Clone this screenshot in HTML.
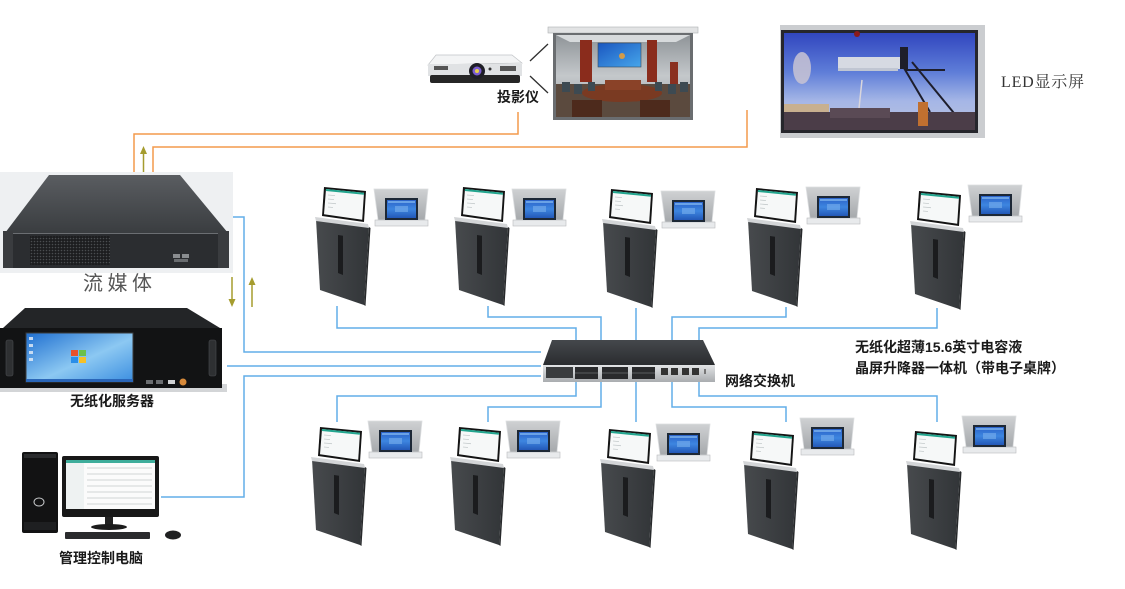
<!DOCTYPE html>
<html><head><meta charset="utf-8"><style>
html,body{margin:0;padding:0;background:#fff;}
svg{display:block;}
</style></head><body>
<svg width="1125" height="589" viewBox="0 0 1125 589" xmlns="http://www.w3.org/2000/svg">
<defs>
  <linearGradient id="slabG" x1="0" y1="0" x2="1" y2="0">
    <stop offset="0" stop-color="#474a4d"/><stop offset="1" stop-color="#323538"/>
  </linearGradient>
  <linearGradient id="plateG" x1="0" y1="0" x2="0" y2="1">
    <stop offset="0" stop-color="#cfd1d3"/><stop offset="1" stop-color="#a6a9ac"/>
  </linearGradient>
  <linearGradient id="blueG" x1="0" y1="0" x2="0" y2="1">
    <stop offset="0" stop-color="#2b62c9"/><stop offset="0.5" stop-color="#3d86e0"/><stop offset="1" stop-color="#2358b8"/>
  </linearGradient>
  <linearGradient id="srvTop" x1="0" y1="0" x2="0" y2="1">
    <stop offset="0" stop-color="#5a5d61"/><stop offset="1" stop-color="#3a3d40"/>
  </linearGradient>
  <linearGradient id="winG" x1="0" y1="0" x2="1" y2="1">
    <stop offset="0" stop-color="#1f6fd0"/><stop offset="0.55" stop-color="#8cc8f2"/><stop offset="1" stop-color="#3b8ee0"/>
  </linearGradient>
  <linearGradient id="swTop" x1="0" y1="0" x2="0" y2="1">
    <stop offset="0" stop-color="#45484c"/><stop offset="1" stop-color="#2a2c2f"/>
  </linearGradient>
  <linearGradient id="swFront" x1="0" y1="0" x2="0" y2="1">
    <stop offset="0" stop-color="#e2e4e6"/><stop offset="1" stop-color="#a9acaf"/>
  </linearGradient>
  <linearGradient id="skyG" x1="0" y1="0" x2="0" y2="1">
    <stop offset="0" stop-color="#3146bf"/><stop offset="0.4" stop-color="#5e7dd8"/><stop offset="0.7" stop-color="#a5b6e6"/><stop offset="1" stop-color="#b9c2e0"/>
  </linearGradient>
  <linearGradient id="wallG" x1="0" y1="0" x2="0" y2="1">
    <stop offset="0" stop-color="#8f9498"/><stop offset="0.5" stop-color="#c4c8cb"/><stop offset="1" stop-color="#9a9ea2"/>
  </linearGradient>
  <linearGradient id="projScr" x1="0" y1="0" x2="1" y2="1">
    <stop offset="0" stop-color="#1a56c0"/><stop offset="1" stop-color="#46a6ea"/>
  </linearGradient>
  <pattern id="grill" width="3" height="3" patternUnits="userSpaceOnUse">
    <rect width="3" height="3" fill="#1c1d1f"/><circle cx="1.5" cy="1.5" r="0.8" fill="#4a4d50"/>
  </pattern>

  <g id="lift">
    <polygon points="1,1 54,9 49,87 5,72" fill="url(#slabG)"/>
    <polygon points="54,9 55.5,10 50.5,88 49,87" fill="#27292b"/>
    <polygon points="0,-1 53,6 54,10 1,3" fill="#d3d5d7"/>
    <polygon points="23,17 28,17.8 28,57 23,55" fill="#1b1c1e"/>
    <polygon points="9,-31 51,-27 49,4 7,-2" fill="#141414"/>
    <polygon points="11,-29 49,-25.3 47.2,1.8 9,-3.8" fill="#f6f8f8"/>
    <polygon points="11,-29 49,-25.3 48.9,-23.3 10.9,-27" fill="#22a58e"/>
    <line x1="13" y1="-23" x2="20" y2="-22.4" stroke="#c5cbcc" stroke-width="0.8"/>
    <line x1="13" y1="-19" x2="19" y2="-18.4" stroke="#c5cbcc" stroke-width="0.8"/>
    <line x1="13" y1="-15" x2="21" y2="-14.3" stroke="#c5cbcc" stroke-width="0.8"/>
    <line x1="13" y1="-11" x2="18" y2="-10.5" stroke="#c5cbcc" stroke-width="0.8"/>
  </g>
  <g id="plate">
    <polygon points="0,0 54,0 51,31 4,31" fill="url(#plateG)" stroke="#dcdee0" stroke-width="0.8"/>
    <rect x="1" y="31" width="53" height="6" fill="#e8eaec" stroke="#b9bbbd" stroke-width="0.6"/>
    <rect x="11" y="9" width="33" height="22" fill="#1d2836"/>
    <rect x="13" y="11" width="29" height="18" fill="url(#blueG)"/>
    <rect x="14" y="12" width="27" height="2" fill="#6aa2e6"/>
    <rect x="21" y="17" width="13" height="6" fill="#7fb4ee" opacity="0.55"/>
  </g>
</defs>

<!-- ============ orange connectors ============ -->
<g fill="none" stroke="#f39a4c" stroke-width="1.5">
  <path d="M134,172 V134 H518 V112"/>
  <path d="M153,172 V147 H747 V110"/>
</g>
<!-- olive arrows -->
<g stroke="#a59c2e" stroke-width="1.5" fill="#a59c2e">
  <line x1="143.5" y1="172" x2="143.5" y2="153"/>
  <polygon points="143.5,146 140,154 147,154" stroke="none"/>
  <line x1="232" y1="277" x2="232" y2="300"/>
  <polygon points="232,307 228.5,299 235.5,299" stroke="none"/>
  <line x1="252" y1="307" x2="252" y2="284"/>
  <polygon points="252,277 248.5,285 255.5,285" stroke="none"/>
</g>

<!-- ============ blue connectors ============ -->
<g fill="none" stroke="#62aee8" stroke-width="1.5">
  <path d="M233,217 H244 V352 H541"/>
  <path d="M227,366 H541"/>
  <path d="M161,497 H244 V376 H541"/>
  <!-- top row -->
  <path d="M337,306 V328 H576 V341"/>
  <path d="M488,306 V317 H601 V341"/>
  <path d="M636,308 V341"/>
  <path d="M786,307 V317 H672 V341"/>
  <path d="M937,308 V328 H699 V341"/>
  <!-- bottom row -->
  <path d="M337,422 V396 H576 V382"/>
  <path d="M488,422 V407 H601 V382"/>
  <path d="M636,422 V382"/>
  <path d="M786,422 V407 H672 V382"/>
  <path d="M937,422 V396 H699 V382"/>
</g>

<!-- ============ projector ============ -->
<g>
  <polygon points="436,55 512,55 522,63 428,65" fill="#f3f4f5" stroke="#c0c3c6" stroke-width="0.7"/>
  <rect x="428" y="64" width="94" height="12" fill="#e0e2e4"/>
  <rect x="430" y="75" width="90" height="8" rx="2" fill="#262626"/>
  <rect x="434" y="66" width="14" height="4" fill="#555"/>
  <rect x="500" y="66" width="16" height="5" fill="#555"/>
  <circle cx="477" cy="71" r="8" fill="#1e1e26"/>
  <circle cx="477" cy="71" r="4.5" fill="#7b5ed0"/>
  <circle cx="477" cy="71" r="2" fill="#e8d04a"/>
  <circle cx="490" cy="69" r="1.5" fill="#333"/>
</g>
<g stroke="#2e2e2e" stroke-width="1.3">
  <line x1="530" y1="61" x2="548" y2="44"/>
  <line x1="530" y1="76" x2="548" y2="93"/>
</g>

<!-- ============ projection screen ============ -->
<g>
  <rect x="548" y="27" width="150" height="6" fill="#e2e3e4" stroke="#aeb0b2" stroke-width="0.6"/>
  <rect x="553" y="33" width="140" height="87" fill="#6a6d70"/>
  <rect x="556" y="35" width="134" height="82" fill="url(#wallG)"/>
  <polygon points="556,35 690,35 676,42 570,42" fill="#d7dadc"/>
  <rect x="580" y="40" width="12" height="42" fill="#8a2c1c"/>
  <rect x="647" y="40" width="10" height="42" fill="#8a2c1c"/>
  <rect x="598" y="43" width="43" height="24" fill="url(#projScr)" stroke="#3a4a5a" stroke-width="0.6"/>
  <circle cx="622" cy="56" r="3" fill="#f0a030" opacity="0.85"/>
  <rect x="670" y="62" width="8" height="22" fill="#8a3020"/>
  <rect x="556" y="84" width="134" height="33" fill="#5b4a3e"/>
  <ellipse cx="622" cy="93" rx="40" ry="9" fill="#7a3a22"/>
  <rect x="605" y="80" width="36" height="10" fill="#8a4228"/>
  <g fill="#3d4a52">
    <rect x="562" y="82" width="8" height="10"/><rect x="574" y="84" width="8" height="10"/>
    <rect x="588" y="82" width="7" height="9"/><rect x="655" y="82" width="7" height="9"/>
    <rect x="668" y="84" width="8" height="10"/><rect x="680" y="82" width="8" height="10"/>
  </g>
  <rect x="572" y="100" width="30" height="17" fill="#4d2a1c"/>
  <rect x="640" y="100" width="30" height="17" fill="#4d2a1c"/>
</g>

<!-- ============ LED display ============ -->
<g>
  <rect x="780" y="25" width="205" height="113" fill="#cbcdd0"/>
  <rect x="781" y="30" width="197" height="103" fill="#26262c"/>
  <rect x="784" y="33" width="191" height="97" fill="url(#skyG)"/>
  <rect x="838" y="57" width="62" height="12" fill="#d6dae2"/>
  <rect x="838" y="68" width="60" height="3" fill="#c0c6d2"/>
  <ellipse cx="802" cy="68" rx="9" ry="16" fill="#c9c4d4" opacity="0.85"/>
  <rect x="900" y="47" width="8" height="22" fill="#1e1e2a"/>
  <g stroke="#1e1e2c" stroke-width="2" fill="none">
    <line x1="904" y1="68" x2="930" y2="112"/>
    <line x1="912" y1="62" x2="958" y2="118"/>
    <line x1="905" y1="70" x2="945" y2="70"/>
  </g>
  <line x1="862" y1="80" x2="858" y2="118" stroke="#d9d6dc" stroke-width="1.5"/>
  <rect x="784" y="104" width="45" height="14" fill="#c8b08f"/>
  <rect x="784" y="112" width="191" height="18" fill="#4b3d48"/>
  <rect x="830" y="108" width="60" height="10" fill="#5a4a55"/>
  <rect x="918" y="102" width="10" height="24" fill="#c07030"/>
  <circle cx="857" cy="34" r="3" fill="#8a1a1a"/>
</g>

<!-- ============ streaming server ============ -->
<g>
  <rect x="0" y="172" width="233" height="101" fill="#eef0f2"/>
  <polygon points="49,175 180,175 228,233 5,233" fill="url(#srvTop)"/>
  <rect x="5" y="233" width="223" height="35" fill="#2b2d30"/>
  <line x1="5" y1="233.5" x2="228" y2="233.5" stroke="#6b6e72" stroke-width="1"/>
  <rect x="3" y="231" width="10" height="37" fill="#3a3c3f"/>
  <rect x="218" y="231" width="11" height="37" fill="#3a3c3f"/>
  <rect x="30" y="236" width="80" height="29" fill="url(#grill)"/>
  <rect x="173" y="254" width="7" height="4" fill="#8a8d90"/>
  <rect x="182" y="254" width="7" height="4" fill="#8a8d90"/>
  <rect x="174" y="259" width="14" height="3" fill="#6a6d70"/>
</g>

<!-- ============ paperless server ============ -->
<g>
  <rect x="0" y="384" width="227" height="8" fill="#d3d5d7"/>
  <polygon points="25,308 187,308 220,328 3,328" fill="#232527"/>
  <rect x="0" y="328" width="222" height="60" fill="#121314"/>
  <rect x="6" y="340" width="7" height="36" rx="2" fill="#2e3032" stroke="#4a4d50" stroke-width="0.6"/>
  <rect x="209" y="340" width="7" height="36" rx="2" fill="#2e3032" stroke="#4a4d50" stroke-width="0.6"/>
  <rect x="26" y="333" width="107" height="49" fill="url(#winG)" stroke="#3a3c3e" stroke-width="1"/>
  <g>
    <rect x="71" y="350" width="7" height="6" fill="#e8512a"/>
    <rect x="79" y="350" width="7" height="6" fill="#6cc04a"/>
    <rect x="71" y="357" width="7" height="6" fill="#2a8ee8"/>
    <rect x="79" y="357" width="7" height="6" fill="#f6c026"/>
  </g>
  <g fill="#e6eef8" opacity="0.8">
    <rect x="29" y="337" width="4" height="3"/><rect x="29" y="344" width="4" height="3"/>
    <rect x="29" y="351" width="4" height="3"/><rect x="29" y="358" width="4" height="3"/>
  </g>
  <rect x="26" y="379" width="107" height="3" fill="#2a66b8"/>
  <rect x="146" y="380" width="7" height="4" fill="#6a6d70"/>
  <rect x="156" y="380" width="7" height="4" fill="#6a6d70"/>
  <rect x="168" y="380" width="7" height="4" fill="#d0d2d4"/>
  <circle cx="183" cy="382" r="3.5" fill="#d6893a"/>
</g>

<!-- ============ management PC ============ -->
<g>
  <rect x="22" y="452" width="36" height="81" rx="2" fill="#121213"/>
  <rect x="24" y="454" width="32" height="4" fill="#2a2b2d"/>
  <ellipse cx="39" cy="502" rx="5" ry="4" fill="none" stroke="#c8cacc" stroke-width="1"/>
  <rect x="24" y="522" width="32" height="8" fill="#1e1f21"/>
  <rect x="62" y="456" width="97" height="61" rx="2" fill="#181818"/>
  <rect x="66" y="460" width="89" height="49" fill="#fbfbfb"/>
  <rect x="66" y="460" width="89" height="3" fill="#1c9f8a" opacity="0.85"/>
  <rect x="66" y="463" width="18" height="46" fill="#eef2f2"/>
  <g stroke="#c4c8ca" stroke-width="0.7">
    <line x1="87" y1="468" x2="152" y2="468"/><line x1="87" y1="474" x2="152" y2="474"/>
    <line x1="87" y1="480" x2="152" y2="480"/><line x1="87" y1="486" x2="152" y2="486"/>
    <line x1="87" y1="492" x2="152" y2="492"/><line x1="87" y1="498" x2="152" y2="498"/>
    <line x1="87" y1="504" x2="152" y2="504"/>
  </g>
  <rect x="105" y="517" width="8" height="8" fill="#222"/>
  <ellipse cx="109" cy="527" rx="18" ry="3" fill="#1c1c1c"/>
  <rect x="65" y="532" width="85" height="7" rx="1" fill="#2a2b2d"/>
  <ellipse cx="173" cy="535" rx="8" ry="4.5" fill="#1f2021"/>
</g>

<!-- ============ switch ============ -->
<g>
  <polygon points="552,340 703,340 715,365 543,365" fill="url(#swTop)"/>
  <rect x="543" y="365" width="172" height="17" fill="url(#swFront)"/>
  <rect x="546" y="367" width="27" height="11" fill="#3a3c3e"/>
  <rect x="575" y="367" width="23" height="12" fill="#2a2b2d"/>
  <rect x="602" y="367" width="26" height="12" fill="#2a2b2d"/>
  <rect x="632" y="367" width="23" height="12" fill="#2a2b2d"/>
  <g stroke="#8a8d90" stroke-width="0.6">
    <line x1="575" y1="373" x2="598" y2="373"/><line x1="602" y1="373" x2="628" y2="373"/><line x1="632" y1="373" x2="655" y2="373"/>
  </g>
  <rect x="661" y="368" width="7" height="7" fill="#333"/>
  <rect x="671" y="368" width="7" height="7" fill="#333"/>
  <rect x="682" y="368" width="7" height="7" fill="#333"/>
  <rect x="692" y="368" width="7" height="7" fill="#333"/>
  <rect x="704" y="369" width="2" height="5" fill="#777"/>
</g>

<!-- ============ terminals ============ -->
<use href="#lift" x="315" y="218"/>
<use href="#lift" x="454" y="218"/>
<use href="#lift" x="602" y="220"/>
<use href="#lift" x="747" y="219"/>
<use href="#lift" x="910" y="222"/>
<use href="#plate" x="374" y="189"/>
<use href="#plate" x="512" y="189"/>
<use href="#plate" x="661" y="191"/>
<use href="#plate" x="806" y="187"/>
<use href="#plate" x="968" y="185"/>

<use href="#lift" x="311" y="458"/>
<use href="#lift" x="450" y="458"/>
<use href="#lift" x="600" y="460"/>
<use href="#lift" x="743" y="462"/>
<use href="#lift" x="906" y="462"/>
<use href="#plate" x="368" y="421"/>
<use href="#plate" x="506" y="421"/>
<use href="#plate" x="656" y="424"/>
<use href="#plate" x="800" y="418"/>
<use href="#plate" x="962" y="416"/>

<!-- ============ labels ============ -->
<g font-family="'Liberation Sans','Noto Sans CJK SC',sans-serif" font-weight="bold" font-size="14" fill="#1a1a1a">
  <text x="497" y="102">投影仪</text>
  <text x="70" y="406">无纸化服务器</text>
  <text x="59" y="563">管理控制电脑</text>
  <text x="725" y="386">网络交换机</text>
  <text x="855" y="352">无纸化超薄15.6英寸电容液</text>
  <text x="855" y="373">晶屏升降器一体机（带电子桌牌）</text>
</g>
<text x="83" y="290" font-family="'Liberation Sans','Noto Sans CJK SC',sans-serif" font-size="20" letter-spacing="4.5" fill="#555">流媒体</text>
<text x="1001" y="87" font-family="'Liberation Serif','Noto Serif CJK SC',serif" font-size="16" letter-spacing="0.8" fill="#333">LED显示屏</text>
</svg>
</body></html>
